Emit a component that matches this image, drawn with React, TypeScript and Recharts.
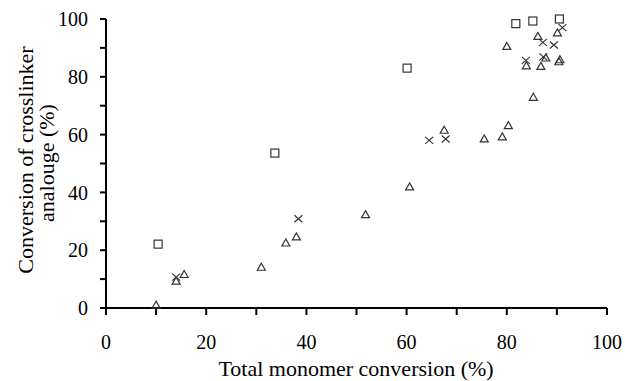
import { Scatter, ScatterChart, XAxis, YAxis } from 'recharts';

const W = 625;
const H = 381;

// tick positions (minor every 10, labels every 20)
const xTicks = [0, 10, 20, 30, 40, 50, 60, 70, 80, 90, 100];
const yTicks = [0, 10, 20, 30, 40, 50, 60, 70, 80, 90, 100];

// squares
const squareX = [10.4, 33.7, 60.1, 81.8, 85.2, 90.5];
const squareY = [22.1, 53.6, 83.0, 98.4, 99.3, 100];

// crosses
const crossX = [14.0, 38.4, 64.5, 67.8, 83.8, 87.2, 87.3, 89.4, 91.1];
const crossY = [10.7, 30.9, 58.0, 58.5, 85.7, 91.9, 86.9, 91.0, 97.0];

// triangles
const triX = [10.0, 14.0, 15.6, 31.0, 35.9, 38.0, 51.8, 60.6, 67.5, 75.5, 79.1, 80.3, 85.3, 80.0, 86.2, 83.9, 86.8, 87.8, 90.1, 90.6, 90.4];
const triY = [1.0, 9.3, 11.6, 14.1, 22.5, 24.6, 32.3, 41.9, 61.5, 58.5, 59.2, 63.1, 72.9, 90.5, 94.0, 83.8, 83.6, 86.5, 95.2, 85.9, 85.2];

const zip = (xs: number[], ys: number[]) => xs.map((x, i) => ({ x, y: ys[i] }));

const INK = '#333';
const FONT = '"Liberation Serif", "DejaVu Serif", serif';

const Square = (p: any) => (
  <rect x={p.cx - 4} y={p.cy - 4} width={8} height={8} fill="none" stroke={INK} strokeWidth={1.2} />
);

const Cross = (p: any) => (
  <path
    d={`M${p.cx - 4},${p.cy - 3.5}L${p.cx + 4},${p.cy + 3.5}M${p.cx - 4},${p.cy + 3.5}L${p.cx + 4},${p.cy - 3.5}`}
    stroke={INK}
    strokeWidth={1.2}
    fill="none"
  />
);

const Triangle = (p: any) => (
  <path
    d={`M${p.cx},${p.cy - 4}L${p.cx + 4},${p.cy + 3}L${p.cx - 4},${p.cy + 3}Z`}
    stroke={INK}
    strokeWidth={1.2}
    fill="none"
  />
);

const tickStyle = { fill: '#000', fontSize: 20, fontFamily: FONT };
const fmt = (v: number) => (v % 20 === 0 ? String(v) : '');

export default function App() {
  return (
    <div style={{ position: 'absolute', left: 0, top: 0, width: W, height: H, background: '#fff' }}>
      <ScatterChart width={W} height={H} margin={{ top: 19, right: 18, bottom: 0, left: 0 }}>
        <XAxis
          xAxisId="b"
          type="number"
          dataKey="x"
          domain={[0, 100]}
          ticks={xTicks}
          tickFormatter={fmt}
          height={73}
          tickSize={7}
          tickMargin={20}
          tick={tickStyle}
          axisLine={{ stroke: '#000', strokeWidth: 2 }}
          tickLine={{ stroke: '#000', strokeWidth: 2 }}
        />
        <XAxis
          xAxisId="t"
          orientation="top"
          type="number"
          dataKey="x"
          domain={[0, 100]}
          height={0}
          tick={false}
          tickLine={false}
          axisLine={{ stroke: '#000', strokeWidth: 2 }}
        />
        <YAxis
          yAxisId="l"
          type="number"
          dataKey="y"
          domain={[0, 100]}
          ticks={yTicks}
          tickFormatter={fmt}
          width={106}
          tickSize={6}
          tickMargin={12}
          tick={tickStyle}
          axisLine={{ stroke: '#000', strokeWidth: 2 }}
          tickLine={{ stroke: '#000', strokeWidth: 2 }}
        />
        <YAxis
          yAxisId="r"
          orientation="right"
          type="number"
          dataKey="y"
          domain={[0, 100]}
          width={0}
          tick={false}
          tickLine={false}
          axisLine={{ stroke: '#000', strokeWidth: 2 }}
        />
        <Scatter xAxisId="b" yAxisId="l" data={zip(triX, triY)} shape={Triangle} isAnimationActive={false} />
        <Scatter xAxisId="b" yAxisId="l" data={zip(crossX, crossY)} shape={Cross} isAnimationActive={false} />
        <Scatter xAxisId="b" yAxisId="l" data={zip(squareX, squareY)} shape={Square} isAnimationActive={false} />
      </ScatterChart>
      <svg width={W} height={H} style={{ position: 'absolute', left: 0, top: 0, pointerEvents: 'none' }}>
        <text x={356} y={376} textAnchor="middle" fontFamily={FONT} fontSize={22} fill="#000">
          Total monomer conversion (%)
        </text>
        <text transform="translate(33,160) rotate(-90)" textAnchor="middle" fontFamily={FONT} fontSize={22} fill="#000">
          Conversion of crosslinker
        </text>
        <text transform="translate(54,163) rotate(-90)" textAnchor="middle" fontFamily={FONT} fontSize={22} fill="#000">
          analouge (%)
        </text>
      </svg>
    </div>
  );
}
